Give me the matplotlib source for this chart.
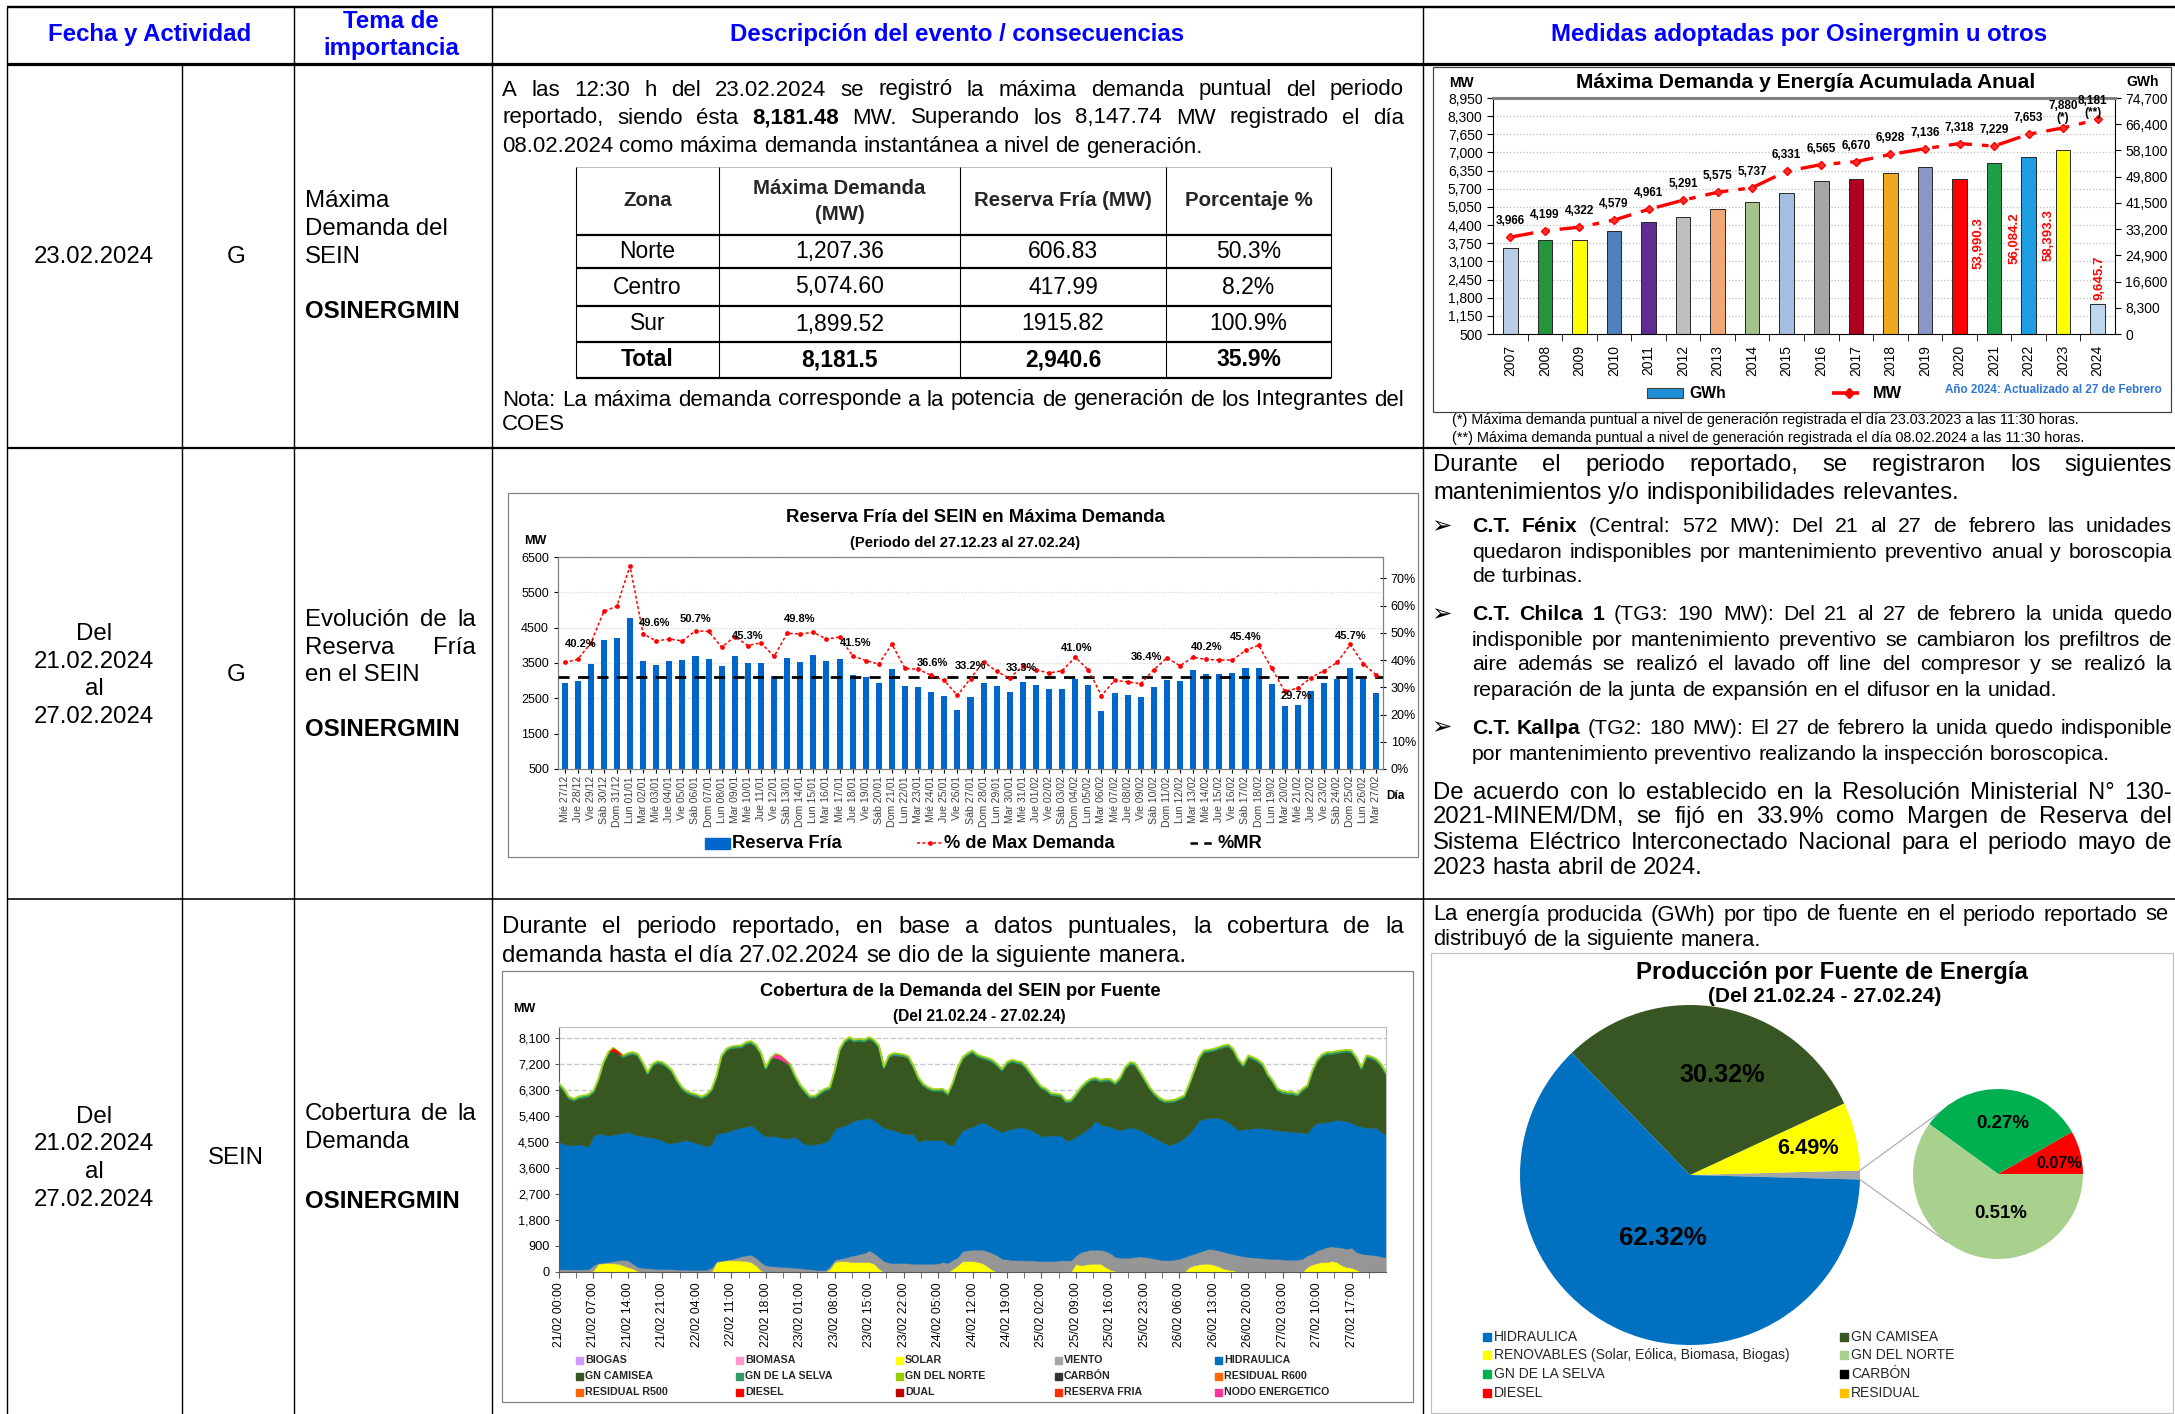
"""
Osinergmin - Máxima demanda, reserva fría y cobertura del SEIN (21.02.24 - 27.02.24)
Run: python plot.py
"""
import matplotlib
matplotlib.use('Agg')
import matplotlib.pyplot as plt
import matplotlib.patheffects as pe
from matplotlib import font_manager
from matplotlib.patches import Rectangle
from matplotlib.ticker import FuncFormatter
import numpy as np
import pandas as pd

W, H = 2175, 1414

_names = {f.name for f in font_manager.fontManager.ttflist}
FONT = 'Liberation Sans' if 'Liberation Sans' in _names else 'DejaVu Sans'
plt.rcParams['font.family'] = [FONT, 'DejaVu Sans']
plt.rcParams['axes.linewidth'] = 0.8

# ── Datos: máxima demanda y energía anual ─────────────────────────────────────
anios = [2007, 2008, 2009, 2010, 2011, 2012, 2013, 2014, 2015,
         2016, 2017, 2018, 2019, 2020, 2021, 2022, 2023, 2024]
energia_gwh = [27100, 29650, 29800, 32500, 35350, 37030, 39570, 41680, 44520,
               48320, 49060, 50850, 52970, 49060, 53990.3, 56084.2, 58393.3, 9645.7]
max_demanda_mw = [3966, 4199, 4322, 4579, 4961, 5291, 5575, 5737, 6331,
                  6565, 6670, 6928, 7136, 7318, 7229, 7653, 7880, 8181]
colores_barras = ['#B8CCE4', '#23963C', '#FFFF00', '#4F81BD', '#5F2C91', '#BFBFBF',
                  '#F0A878', '#A4C28A', '#A6BDE3', '#A6A6A6', '#B00020', '#F0A81E',
                  '#8896C8', '#FF0000', '#1E9E48', '#1E9EE0', '#FFFF00', '#BDD7EE']

# ── Datos: tabla de máxima demanda por zona ───────────────────────────────────
tabla_zonas = ['Norte', 'Centro', 'Sur', 'Total']
tabla_demanda = ['1,207.36', '5,074.60', '1,899.52', '8,181.5']
tabla_reserva = ['606.83', '417.99', '1915.82', '2,940.6']
tabla_pct = ['50.3%', '8.2%', '100.9%', '35.9%']

# ── Datos: reserva fría diaria (27.12.23 - 27.02.24) ──────────────────────────
reserva_fria = [2926, 3001, 3472, 4149, 4196, 4760, 3547, 3434, 3547, 3584,
                3707, 3603, 3415, 3688, 3509, 3509, 3133, 3641, 3528, 3726,
                3547, 3603, 3161, 3096, 2945, 3321, 2851, 2823, 2672, 2559,
                2174, 2531, 2945, 2851, 2682, 2964, 2870, 2757, 2757, 3048,
                2889, 2155, 2644, 2597, 2531, 2832, 3030, 3001, 3293, 3190,
                3190, 3218, 3349, 3349, 2917, 2287, 2315, 2719, 2941, 3039,
                3349, 3058, 2644]
pct_max_demanda = [39.1, 40.2, 46.2, 57.8, 59.8, 74.5, 49.6, 47.0, 47.7, 47.0,
                   50.7, 50.5, 44.7, 48.6, 45.3, 46.3, 41.3, 49.8, 49.6, 50.1,
                   47.7, 48.4, 41.5, 39.8, 38.5, 45.8, 36.9, 36.6, 34.4, 32.5,
                   27.0, 33.2, 39.4, 35.8, 33.3, 37.9, 36.4, 35.2, 36.1, 41.0,
                   36.4, 26.9, 32.5, 32.0, 31.3, 36.4, 40.8, 37.9, 41.0, 40.2,
                   40.0, 40.0, 43.5, 45.4, 37.0, 28.5, 29.7, 33.5, 36.1, 39.1,
                   45.7, 38.6, 34.4]
margen_reserva = 33.9
pct_etq_idx = [1, 6, 10, 14, 17, 22, 27, 31, 34, 39, 45, 49, 53, 56, 60]
pct_etq_off = [(3, 15), (11, 11), (0, 12), (0, 10), (12, 14), (3, 13), (14, 6), (0, 13),
               (12, 10), (1, 9), (-7, 13), (0, 12), (-13, 8), (-2, -8), (0, 8)]

# ── Datos: cobertura horaria (niveles acumulados, MW) ─────────────────────────
nivel_solar = [0, 0, 0, 0, 0, 0, 0, 60, 288, 300,
               311, 300, 288, 230, 173, 115, 35, 0, 0, 0,
               0, 0, 0, 0, 0, 0, 0, 0, 0, 0,
               0, 30, 346, 380, 403, 403, 403, 395, 380, 346,
               230, 58, 0, 0, 0, 0, 0, 0, 0, 0,
               0, 0, 0, 0, 0, 100, 346, 380, 380, 360,
               346, 346, 346, 346, 288, 115, 0, 0, 0, 0,
               0, 0, 0, 0, 0, 0, 0, 0, 0, 0,
               115, 230, 380, 380, 380, 350, 311, 196, 81, 0,
               0, 0, 0, 0, 0, 0, 0, 0, 0, 0,
               0, 0, 0, 0, 20, 288, 230, 260, 288, 288,
               288, 173, 81, 35, 0, 0, 0, 0, 0, 0,
               0, 0, 0, 0, 0, 0, 0, 0, 173, 230,
               265, 288, 288, 250, 196, 115, 81, 58, 0, 0,
               0, 0, 0, 0, 0, 0, 0, 0, 0, 0,
               0, 0, 173, 265, 311, 346, 346, 380, 346, 230,
               173, 150, 81, 0, 0, 0, 0, 0, 0]
nivel_viento = [95, 92, 90, 90, 88, 90, 95, 230, 311, 330,
                346, 380, 403, 426, 403, 288, 173, 150, 130, 120,
                115, 110, 105, 95, 85, 85, 80, 80, 78, 78,
                80, 150, 380, 400, 426, 450, 495, 540, 576, 599,
                495, 346, 230, 210, 196, 185, 173, 160, 150, 130,
                115, 100, 81, 70, 60, 200, 426, 461, 495, 540,
                576, 620, 657, 749, 657, 518, 380, 330, 311, 311,
                311, 300, 288, 288, 288, 288, 288, 300, 346, 311,
                426, 518, 726, 750, 772, 772, 772, 726, 657, 576,
                461, 440, 420, 410, 403, 400, 403, 390, 380, 380,
                380, 390, 403, 403, 403, 576, 691, 730, 772, 772,
                772, 726, 657, 518, 495, 500, 495, 520, 541, 520,
                495, 460, 426, 410, 403, 430, 461, 518, 576, 634,
                691, 749, 806, 780, 749, 700, 657, 620, 576, 545,
                518, 505, 495, 475, 461, 455, 449, 435, 426, 426,
                426, 461, 576, 634, 749, 806, 864, 887, 864, 841,
                806, 841, 691, 634, 611, 595, 576, 540, 495]
nivel_hidraulica = [4493, 4430, 4380, 4400, 4410, 4380, 4340, 4720, 4780, 4760,
                    4720, 4760, 4780, 4810, 4840, 4780, 4720, 4700, 4670, 4640,
                    4610, 4540, 4460, 4470, 4490, 4530, 4570, 4500, 4460, 4400,
                    4340, 4430, 4780, 4810, 4840, 4900, 4950, 5000, 5030, 5070,
                    4950, 4800, 4690, 4700, 4690, 4650, 4610, 4640, 4670, 4540,
                    4410, 4410, 4410, 4450, 4490, 4610, 4950, 5010, 5070, 5150,
                    5240, 5270, 5300, 5330, 5240, 5110, 4990, 4940, 4900, 4840,
                    4780, 4770, 4760, 4490, 4570, 4570, 4570, 4560, 4550, 4410,
                    4380, 4670, 4900, 4970, 5030, 5110, 5180, 5100, 5010, 4920,
                    4840, 4900, 4950, 4980, 5010, 4950, 4900, 4800, 4690, 4710,
                    4720, 4720, 4720, 4550, 4570, 4680, 4780, 4900, 5030, 5240,
                    5100, 5050, 5030, 4950, 4900, 4950, 5010, 4960, 4920, 4820,
                    4720, 4640, 4550, 4460, 4380, 4450, 4530, 4650, 4780, 5010,
                    5240, 5290, 5330, 5330, 5330, 5260, 5180, 5040, 4900, 4930,
                    4950, 4970, 4990, 4970, 4950, 4920, 4900, 4880, 4870, 4850,
                    4840, 4820, 4800, 5030, 5150, 5170, 5180, 5220, 5260, 5240,
                    5220, 5150, 5070, 5030, 4990, 4990, 4990, 4860, 4720]
nivel_total = [6530, 6336, 6071, 5990, 6071, 6106, 6140, 6278, 6682, 7258,
               7603, 7753, 7638, 7488, 7569, 7603, 7546, 7258, 6912, 7200,
               7292, 7258, 7142, 6970, 6647, 6394, 6255, 6186, 6140, 6071,
               6163, 6336, 6797, 7488, 7718, 7799, 7822, 7833, 7949, 7983,
               7868, 7603, 7085, 7407, 7546, 7488, 7338, 7177, 6797, 6486,
               6278, 6094, 6094, 6220, 6336, 6394, 6970, 7718, 8006, 8122,
               8030, 8064, 8030, 8122, 8030, 7833, 7108, 7488, 7569, 7546,
               7523, 7454, 7142, 6739, 6509, 6394, 6325, 6325, 6336, 6186,
               6566, 7085, 7430, 7569, 7661, 7523, 7454, 7407, 7338, 7200,
               7027, 7258, 7338, 7292, 7258, 7085, 6854, 6624, 6417, 6336,
               6186, 6163, 6140, 5933, 5956, 6163, 6394, 6566, 6682, 6716,
               6647, 6682, 6670, 6555, 6739, 7085, 7258, 7223, 6970, 6682,
               6394, 6186, 6025, 5933, 5933, 5956, 6025, 6106, 6509, 6970,
               7430, 7661, 7684, 7718, 7776, 7833, 7868, 7718, 7373, 7177,
               7488, 7430, 7338, 7200, 6854, 6624, 6336, 6255, 6220, 6220,
               6163, 6336, 6451, 6970, 7338, 7523, 7603, 7603, 7638, 7661,
               7684, 7661, 7430, 7085, 7488, 7454, 7373, 7200, 6912]
diesel_horas = [10, 11, 12, 13]
diesel_mw = [0, 120, 100, 0]
nodo_horas = [43, 44, 45, 46, 47]
nodo_mw = [0, 150, 150, 100, 0]

leyenda_cobertura = [('BIOGAS', '#CC99FF'), ('BIOMASA', '#FF99CC'), ('SOLAR', '#FFFF00'),
                     ('VIENTO', '#A6A6A6'), ('HIDRAULICA', '#0070C0'),
                     ('GN CAMISEA', '#375623'), ('GN DE LA SELVA', '#339966'),
                     ('GN DEL NORTE', '#99CC00'), ('CARBÓN', '#333333'), ('RESIDUAL R600', '#FF6600'),
                     ('RESIDUAL R500', '#FF6600'), ('DIESEL', '#FF0000'), ('DUAL', '#C00000'),
                     ('RESERVA FRIA', '#FF3300'), ('NODO ENERGETICO', '#FF3399')]

# ── Datos: producción por fuente (%) ──────────────────────────────────────────
pie_fuentes = ['Otros', 'Renovables', 'GN Camisea', 'Hidráulica']
pie_valores = [0.85, 6.49, 30.32, 62.32]
pie_colores = ['#A6A6A6', '#FFFF00', '#375623', '#0070C0']
sub_fuentes = ['Diesel', 'GN de la Selva', 'GN del Norte']
sub_valores = [0.07, 0.27, 0.51]
sub_colores = ['#FF0000', '#00B050', '#A9D18E']
leyenda_pie = [('HIDRAULICA', '#0070C0'), ('GN CAMISEA', '#375623'),
               ('RENOVABLES (Solar, Eólica, Biomasa, Biogas)', '#FFFF00'), ('GN DEL NORTE', '#A9D18E'),
               ('GN DE LA SELVA', '#00B050'), ('CARBÓN', '#000000'),
               ('DIESEL', '#FF0000'), ('RESIDUAL', '#FFC000')]

# ── Figura base (coordenadas en píxeles) ──────────────────────────────────────
fig = plt.figure(figsize=(W / 100, H / 100), dpi=100)
base = fig.add_axes([0, 0, 1, 1])
base.set_xlim(0, W)
base.set_ylim(H, 0)
base.axis('off')
R = fig.canvas.get_renderer()


def add_ax(l, t, r, b):
    return fig.add_axes([l / W, 1 - b / H, (r - l) / W, (b - t) / H])


def width(s, size, weight='normal'):
    t = base.text(0, 0, s, fontsize=size, fontweight=weight)
    w = t.get_window_extent(R).width
    t.remove()
    return w


def fit(s, target, weight='normal'):
    return 10 * target / width(s, 10, weight)


def put(ax, x, y, s, size, ha='left', weight='normal', color='black', **kw):
    return ax.text(x, y, s, fontsize=size, ha=ha, va='center',
                   fontweight=weight, color=color, **kw)


def line(ax, x0, y, parts, size, x1=None, color='black'):
    if isinstance(parts, str):
        parts = [(parts, False)]
    words = [(w, 'bold' if b else 'normal') for txt, b in parts for w in txt.split()]
    ws = [width(w, size, wt) for w, wt in words]
    space = width('a a', size) - width('aa', size)
    gap = space
    if x1 is not None and len(words) > 1:
        gap = max((x1 - x0 - sum(ws)) / (len(words) - 1), 0.4 * space)
    x = x0
    for (w, wt), ww in zip(words, ws):
        put(ax, x, y, w, size, weight=wt, color=color)
        x += ww + gap


def hline(y, x0, x1, px, color='black'):
    base.plot([x0, x1], [y, y], color=color, lw=px * 0.72, solid_capstyle='butt')


def vline(x, y0, y1, px, color='black'):
    base.plot([x, x], [y0, y1], color=color, lw=px * 0.72, solid_capstyle='butt')


def box(l, t, r, b, color, px=1.0):
    base.add_patch(Rectangle((l, t), r - l, b - t, fill=False, ec=color, lw=px * 0.72))


# ── Rejilla de la tabla principal ─────────────────────────────────────────────
hline(7, 7, W, 2.4)
hline(64, 7, W, 3.2)
hline(448, 7, W, 2.2)
hline(899, 7, W, 1.6)
for xv in [7, 294, 492, 1423]:
    vline(xv, 7, H, 1.4)
vline(182, 64, H, 1.4)

# encabezados
HS = fit('Descripción del evento / consecuencias', 455, 'bold')
BLUE = '#0000FF'
put(base, 150, 35, 'Fecha y Actividad', HS, ha='center', weight='bold', color=BLUE)
put(base, 391, 22, 'Tema de', HS, ha='center', weight='bold', color=BLUE)
put(base, 391, 49, 'importancia', HS, ha='center', weight='bold', color=BLUE)
put(base, 957, 35, 'Descripción del evento / consecuencias', HS, ha='center', weight='bold', color=BLUE)
put(base, 1799, 35, 'Medidas adoptadas por Osinergmin u otros', HS, ha='center', weight='bold', color=BLUE)

# columnas izquierdas
LS = fit('23.02.2024', 121)
put(base, 94, 257, '23.02.2024', LS, ha='center')
put(base, 236, 257, 'G', LS, ha='center')
for yy, s in zip([201, 229, 257], ['Máxima', 'Demanda del', 'SEIN']):
    put(base, 305, yy, s, LS)
put(base, 305, 311, 'OSINERGMIN', LS, weight='bold')

for yy, s in zip([634, 662, 689, 717], ['Del', '21.02.2024', 'al', '27.02.2024']):
    put(base, 94, yy, s, LS, ha='center')
put(base, 236, 675, 'G', LS, ha='center')
line(base, 305, 620, 'Evolución de la', LS, x1=476)
line(base, 305, 648, 'Reserva Fría', LS, x1=476)
put(base, 305, 675, 'en el SEIN', LS)
put(base, 305, 730, 'OSINERGMIN', LS, weight='bold')

for yy, s in zip([1117, 1144, 1172, 1200], ['Del', '21.02.2024', 'al', '27.02.2024']):
    put(base, 94, yy, s, LS, ha='center')
put(base, 236, 1158, 'SEIN', LS, ha='center')
line(base, 305, 1114, 'Cobertura de la', LS, x1=476)
put(base, 305, 1142, 'Demanda', LS)
put(base, 305, 1201, 'OSINERGMIN', LS, weight='bold')

# ── Fila 1: texto y tabla ─────────────────────────────────────────────────────
NOTA = 'Nota: La máxima demanda corresponde a la potencia de generación de los Integrantes del'
PS = min(fit('08.02.2024 como máxima demanda instantánea a nivel de generación.', 753),
         fit(NOTA, 898))
line(base, 502, 90, 'A las 12:30 h del 23.02.2024 se registró la máxima demanda puntual del periodo', PS, x1=1404)
line(base, 502, 118, [('reportado, siendo ésta', False), ('8,181.48', True),
                      ('MW. Superando los 8,147.74 MW registrado el día', False)], PS, x1=1404)
line(base, 502, 147, '08.02.2024 como máxima demanda instantánea a nivel de generación.', PS)
line(base, 502, 400, NOTA, PS, x1=1404)
line(base, 502, 424, 'COES', PS)

tx = [576, 719, 960, 1166, 1331]
ty = [167, 235, 268, 306, 342, 378]
hline(ty[0], tx[0], tx[-1], 1.0, color='#BFBFBF')
for yv in ty[1:]:
    hline(yv, tx[0], tx[-1], 2.2)
for xv in tx:
    vline(xv, ty[0], ty[-1], 1.1)
TH = fit('Reserva Fría (MW)', 178, 'bold')
TB = fit('606.83', 70)
cx = [(a + b) / 2 for a, b in zip(tx[:-1], tx[1:])]
put(base, cx[0], 201, 'Zona', TH, ha='center', weight='bold', color='#262626')
put(base, cx[1], 189, 'Máxima Demanda', TH, ha='center', weight='bold', color='#262626')
put(base, cx[1], 214, '(MW)', TH, ha='center', weight='bold', color='#262626')
put(base, cx[2], 201, 'Reserva Fría (MW)', TH, ha='center', weight='bold', color='#262626')
put(base, cx[3], 201, 'Porcentaje %', TH, ha='center', weight='bold', color='#262626')
for i, zona in enumerate(tabla_zonas):
    yy = (ty[i + 1] + ty[i + 2]) / 2
    wt = 'bold' if zona == 'Total' else 'normal'
    for j, val in enumerate([zona, tabla_demanda[i], tabla_reserva[i], tabla_pct[i]]):
        put(base, cx[j], yy, val, TB, ha='center', weight=wt)

# ── Fila 1: gráfico máxima demanda / energía anual ────────────────────────────
box(1433, 67, 2171, 412, '#404040', 1.2)
put(base, 1806, 83, 'Máxima Demanda y Energía Acumulada Anual',
    fit('Máxima Demanda y Energía Acumulada Anual', 459, 'bold'), ha='center', weight='bold')
put(base, 1461, 83, 'MW', 10, ha='center', weight='bold')
put(base, 2143, 82, 'GWh', 10, ha='center', weight='bold')

ax1 = add_ax(1493, 98, 2115, 334)
xa = np.arange(len(anios))
ax1.bar(xa, energia_gwh, width=0.42, color=colores_barras, edgecolor='#262626',
        linewidth=0.7, zorder=2)
ax1.set_xlim(-0.5, len(anios) - 0.5)
ax1.set_ylim(0, 74700)
ax1.set_yticks(np.arange(0, 74701, 8300))
ax1.set_yticks(np.linspace(0, 74700, 14), minor=True)
ax1.grid(axis='y', which='minor', ls=':', color='#BFBFBF', lw=0.9)
ax1.set_axisbelow(True)
ax1.yaxis.set_major_formatter(FuncFormatter(lambda v, p: f'{v:,.0f}'))
ax1.set_xticks(xa)
ax1.set_xticklabels([str(a) for a in anios], rotation=90, fontsize=10)
ax1.set_xticks(xa[:-1] + 0.5, minor=True)
ax1.tick_params(axis='x', which='major', length=0, pad=8)
ax1.tick_params(axis='x', which='minor', length=5)
for sp in ['top', 'left', 'right']:
    ax1.spines[sp].set_visible(False)

ax1b = ax1.twinx()
ax1.yaxis.tick_right()
ax1.tick_params(axis='y', which='major', labelsize=10, length=4)
ax1.tick_params(axis='y', which='minor', length=0)
ax1b.yaxis.tick_left()
ax1b.set_ylim(500, 8950)
ax1b.set_yticks(np.arange(500, 8951, 650))
ax1b.yaxis.set_major_formatter(FuncFormatter(lambda v, p: f'{v:,.0f}'))
ax1b.tick_params(axis='y', labelsize=10, length=4)
ax1b.spines['top'].set_color('#808080')
ax1b.spines['top'].set_linewidth(2.2)
ax1b.spines['bottom'].set_visible(False)
ax1b.plot(xa, max_demanda_mw, color='#FF0000', lw=2.4, ls=(0, (7, 3, 2, 3)),
          marker='D', ms=4.5, mec='#FF0000', mfc='#FF3030', zorder=3)
for i, v in enumerate(max_demanda_mw):
    if anios[i] == 2023:
        ax1b.annotate(f'{v:,}\n(*)', (i, v), xytext=(0, 4), textcoords='offset pixels',
                      ha='center', va='bottom', fontsize=8.5, fontweight='bold', linespacing=1.0)
    elif anios[i] == 2024:
        ax1b.annotate(f'{v:,}\n(**)', (i, v), xytext=(-5, 0), textcoords='offset pixels',
                      ha='center', va='bottom', fontsize=8.5, fontweight='bold', linespacing=1.0)
    else:
        ax1b.annotate(f'{v:,}', (i, v), xytext=(0, 16), textcoords='offset pixels',
                      ha='center', va='center', fontsize=8.5, fontweight='bold')
etq_gwh = {14: (-0.44, 0.387), 15: (-0.42, 0.408), 16: (-0.42, 0.42), 17: (0.04, 0.237)}
for i, (dx, fy) in etq_gwh.items():
    ax1.text(i + dx, fy, f'{energia_gwh[i]:,.1f}', transform=ax1.get_xaxis_transform(),
             rotation=90, ha='center', va='center', color='#FF0000', fontsize=9.5,
             fontweight='bold')

base.add_patch(Rectangle((1647, 388), 36, 10, fc='#1F8FD8', ec='#404040', lw=0.8))
put(base, 1689, 393, 'GWh', fit('GWh', 37, 'bold'), weight='bold')
base.plot([1832, 1866], [393, 393], color='#FF0000', lw=2.6, ls=(0, (4, 2, 1.5, 2)))
base.plot([1849], [393], marker='D', ms=5, color='#FF0000')
put(base, 1873, 393, 'MW', fit('MW', 29, 'bold'), weight='bold')
put(base, 1945, 390, 'Año 2024: Actualizado al 27 de Febrero',
    fit('Año 2024: Actualizado al 27 de Febrero', 217, 'bold'), weight='bold', color='#2E75D6')
FN = fit('(*) Máxima demanda puntual a nivel de generación registrada el día 23.03.2023 a las 11:30 horas.', 631)
put(base, 1452, 420, '(*) Máxima demanda puntual a nivel de generación registrada el día 23.03.2023 a las 11:30 horas.', FN)
put(base, 1452, 438, '(**) Máxima demanda puntual a nivel de generación registrada el día 08.02.2024 a las 11:30 horas.', FN)

# ── Fila 2: gráfico reserva fría ──────────────────────────────────────────────
box(508, 493, 1418, 857, '#808080', 1.2)
put(base, 975, 518, 'Reserva Fría del SEIN en Máxima Demanda',
    fit('Reserva Fría del SEIN en Máxima Demanda', 379, 'bold'), ha='center', weight='bold')
put(base, 965, 543, '(Periodo del 27.12.23 al 27.02.24)',
    fit('(Periodo del 27.12.23 al 27.02.24)', 230, 'bold'), ha='center', weight='bold')
put(base, 535, 541, 'MW', 9, ha='center', weight='bold')
put(base, 1395, 796, 'Día', 8.5, ha='center', weight='bold')

dias_es = ['Lun', 'Mar', 'Mié', 'Jue', 'Vie', 'Sáb', 'Dom']
fechas = pd.date_range('2023-12-27', '2024-02-27', freq='D')
etiquetas_dias = [f'{dias_es[d.weekday()]} {d:%d/%m}' for d in fechas]

ax2 = add_ax(558, 557, 1383, 769)
xd = np.arange(len(reserva_fria))
ax2.bar(xd, reserva_fria, width=0.46, color='#0066CC', zorder=2)
ax2.set_xlim(-0.5, len(xd) - 0.5)
ax2.set_ylim(500, 6500)
ax2.set_yticks(range(500, 6501, 1000))
ax2.grid(axis='y', ls=':', color='#D0D0D0', lw=0.8)
ax2.set_axisbelow(True)
ax2.set_xticks(xd)
ax2.set_xticklabels(etiquetas_dias, rotation=90, fontsize=7.6, color='#404040')
ax2.tick_params(axis='x', length=3, pad=2)
ax2.tick_params(axis='y', labelsize=9, length=3)
for sp in ax2.spines.values():
    sp.set_color('#808080')

ax2r = ax2.twinx()
ax2r.set_ylim(0, 77.8)
ax2r.set_yticks(range(0, 71, 10))
ax2r.yaxis.set_major_formatter(FuncFormatter(lambda v, p: f'{v:.0f}%'))
ax2r.tick_params(axis='y', labelsize=9, length=4, direction='inout')
for sp in ax2r.spines.values():
    sp.set_color('#808080')
ax2r.axhline(margen_reserva, color='black', lw=2.0, ls=(0, (4, 3)), zorder=3)
ax2r.plot(xd, pct_max_demanda, color='#FF0000', lw=1.1, ls=(0, (2, 1.5)),
          marker='o', ms=2.4, zorder=4)
for i, (dx, dy) in zip(pct_etq_idx, pct_etq_off):
    ax2r.annotate(f'{pct_max_demanda[i]:.1f}%', (i, pct_max_demanda[i]), xytext=(dx, dy),
                  textcoords='offset pixels', ha='center', va='center',
                  fontsize=8, fontweight='bold', zorder=5)

LG2 = fit('Reserva Fría', 110, 'bold')
base.add_patch(Rectangle((705, 838), 25, 11, color='#0066CC'))
put(base, 732, 843, 'Reserva Fría', LG2, weight='bold')
base.plot([917, 929.5, 942], [843, 843, 843], color='#FF0000', lw=1.1, ls=(0, (2, 1.5)),
          marker='o', ms=2.4, markevery=[1])
put(base, 944, 843, '% de Max Demanda', LG2, weight='bold')
base.plot([1190, 1213], [843, 843], color='black', lw=1.8, ls=(0, (3, 2.5)))
put(base, 1217, 843, '%MR', LG2, weight='bold')

# ── Fila 2: texto de medidas ──────────────────────────────────────────────────
MS = fit('mantenimientos y/o indisponibilidades relevantes.', 526)
BS = fit('reparación de la junta de expansión en el difusor en la unidad.', 587)
line(base, 1433, 465, 'Durante el periodo reportado, se registraron los siguientes', MS, x1=2172)
line(base, 1433, 493, 'mantenimientos y/o indisponibilidades relevantes.', MS)
vinetas = [
    (527, [('C.T. Fénix', True), ('(Central: 572 MW): Del 21 al 27 de febrero las unidades', False)], True),
    (552, 'quedaron indisponibles por mantenimiento preventivo anual y boroscopia', True),
    (577, 'de turbinas.', False),
    (615, [('C.T. Chilca 1', True), ('(TG3: 190 MW): Del 21 al 27 de febrero la unida quedo', False)], True),
    (641, 'indisponible por mantenimiento preventivo se cambiaron los prefiltros de', True),
    (665, 'aire además se realizó el lavado off line del compresor y se realizó la', True),
    (690, 'reparación de la junta de expansión en el difusor en la unidad.', False),
    (728, [('C.T. Kallpa', True), ('(TG2: 180 MW): El 27 de febrero la unida quedo indisponible', False)], True),
    (754, 'por mantenimiento preventivo realizando la inspección boroscopica.', False),
]
for yy, parts, just in vinetas:
    line(base, 1472, yy, parts, BS, x1=2172 if just else None)
for yy in [527, 615, 728]:
    put(base, 1441, yy, '➢', BS * 1.15, ha='center')
line(base, 1433, 793, 'De acuerdo con lo establecido en la Resolución Ministerial N° 130-', MS, x1=2172)
line(base, 1433, 817, '2021-MINEM/DM, se fijó en 33.9% como Margen de Reserva del', MS, x1=2172)
line(base, 1433, 843, 'Sistema Eléctrico Interconectado Nacional para el periodo mayo de', MS, x1=2172)
line(base, 1433, 868, '2023 hasta abril de 2024.', MS)

# ── Fila 3: texto y gráfico de cobertura ──────────────────────────────────────
CS = fit('demanda hasta el día 27.02.2024 se dio de la siguiente manera.', 687)
line(base, 502, 927, 'Durante el periodo reportado, en base a datos puntuales, la cobertura de la', CS, x1=1404)
line(base, 502, 956, 'demanda hasta el día 27.02.2024 se dio de la siguiente manera.', CS)

box(502, 971, 1413, 1402, '#808080', 1.2)
put(base, 960, 992, 'Cobertura de la Demanda del SEIN por Fuente',
    fit('Cobertura de la Demanda del SEIN por Fuente', 401, 'bold'), ha='center', weight='bold')
put(base, 979, 1017, '(Del 21.02.24 - 27.02.24)',
    fit('(Del 21.02.24 - 27.02.24)', 174, 'bold'), ha='center', weight='bold')
put(base, 524, 1009, 'MW', 9, ha='center', weight='bold')

horas = np.arange(len(nivel_total))
n_sol = np.array(nivel_solar)
n_vie = np.array(nivel_viento)
n_hid = np.array(nivel_hidraulica)
n_tot = np.array(nivel_total)

ax3 = add_ax(559, 1027, 1386, 1272)
ax3.set_axisbelow(True)
ax3.grid(axis='y', ls='--', color='#C8C8C8', lw=1.0)
ax3.fill_between(horas, 0, n_sol, color='#FFFF00', lw=0.4, ec='#FFFF00', zorder=2)
ax3.fill_between(horas, n_sol, n_vie, color='#969696', lw=0.4, ec='#969696', zorder=2)
ax3.fill_between(horas, n_vie, n_hid, color='#0070C0', lw=0.4, ec='#0070C0', zorder=2)
ax3.fill_between(horas, n_hid, n_tot, color='#38561F', lw=0.4, ec='#38561F', zorder=2)
ax3.plot(horas, n_tot, color='#A8D81A', lw=1.3, zorder=3,
         path_effects=[pe.SimpleLineShadow(offset=(0, -1.3), shadow_color='#2E9E6E', alpha=1, rho=1),
                       pe.Normal()])
ax3.fill_between(diesel_horas, n_tot[diesel_horas] - np.array(diesel_mw), n_tot[diesel_horas],
                 color='#FF0000', lw=0, zorder=4)
ax3.fill_between(nodo_horas, n_tot[nodo_horas] - np.array(nodo_mw), n_tot[nodo_horas],
                 color='#FF3399', lw=0, zorder=4)
ax3.set_xlim(0, 168)
ax3.set_ylim(0, 8470)
ax3.set_yticks(range(0, 8101, 900))
ax3.yaxis.set_major_formatter(FuncFormatter(lambda v, p: f'{v:,.0f}'))
tick_horas = list(range(0, 168, 7))
tick_labels = [f'{21 + h // 24:02d}/02 {h % 24:02d}:00' for h in tick_horas]
ax3.set_xticks(tick_horas)
ax3.set_xticklabels(tick_labels, rotation=90, fontsize=8.8)
ax3.set_xticks(np.arange(3.5, 168, 7), minor=True)
ax3.tick_params(axis='x', which='both', length=4, color='#595959')
ax3.tick_params(axis='y', labelsize=9.2, length=3, color='#595959')
ax3.spines['left'].set_color('#595959')
ax3.spines['bottom'].set_color('#595959')
ax3.spines['top'].set_color('#BFBFBF')
ax3.spines['right'].set_color('#BFBFBF')

LG3 = fit('GN CAMISEA', 68, 'bold')
col_x = [579, 739, 899, 1058, 1218]
fil_y = [1360, 1376, 1392]
for k, (nombre, color) in enumerate(leyenda_cobertura):
    xx, yy = col_x[k % 5], fil_y[k // 5]
    base.add_patch(Rectangle((xx - 3.5, yy - 3.5), 7, 7, color=color))
    put(base, xx + 6, yy, nombre, LG3, weight='bold', color='#262626')

# ── Fila 3: producción por fuente ─────────────────────────────────────────────
ENERGIA = 'La energía producida (GWh) por tipo de fuente en el periodo reportado se'
ES = fit(ENERGIA, 722)
line(base, 1433, 915, ENERGIA, ES, x1=2168)
line(base, 1433, 940, 'distribuyó de la siguiente manera.', ES)
box(1431, 953, 2173, 1413, '#BFBFBF', 1.2)
put(base, 1832, 973, 'Producción por Fuente de Energía',
    fit('Producción por Fuente de Energía', 393, 'bold'), ha='center', weight='bold')
put(base, 1825, 997, '(Del 21.02.24 - 27.02.24)',
    fit('(Del 21.02.24 - 27.02.24)', 233, 'bold'), ha='center', weight='bold')

PCX, PCY, PR = 1690, 1175, 170
ax5 = add_ax(PCX - PR, PCY - PR, PCX + PR, PCY + PR)
inicio = -pie_valores[0] / sum(pie_valores) * 360 / 2
ax5.pie(pie_valores, colors=pie_colores, startangle=inicio, counterclock=True,
        wedgeprops=dict(linewidth=0))
ax5.set_xlim(-1, 1)
ax5.set_ylim(-1, 1)

SCX, SCY, SR = 1998, 1174, 85
ax6 = add_ax(SCX - SR, SCY - SR, SCX + SR, SCY + SR)
ax6.pie(sub_valores, colors=sub_colores, startangle=0, counterclock=True,
        wedgeprops=dict(linewidth=0))
ax6.set_xlim(-1, 1)
ax6.set_ylim(-1, 1)

over = fig.add_axes([0, 0, 1, 1])
over.set_xlim(0, W)
over.set_ylim(H, 0)
over.axis('off')

a1 = np.radians(inicio)
a2 = np.radians(inicio + pie_valores[0] / sum(pie_valores) * 360)
for am, asub in [(a2, np.radians(133.6)), (a1, np.radians(-127))]:
    over.plot([PCX + PR * np.cos(am), SCX + SR * np.cos(asub)],
              [PCY - PR * np.sin(am), SCY - SR * np.sin(asub)], color='#A6A6A6', lw=0.8)

etq_pie = [(1722, 1075, 30.32, 86), (1808, 1148, 6.49, 62), (1663, 1238, 62.32, 88)]
for xx, yy, v, wpx in etq_pie:
    s = f'{v:.2f}%'
    put(over, xx, yy, s, fit(s, wpx, 'bold'), ha='center', weight='bold')
etq_sub = [(2003, 1123, 0.27, 53), (2059, 1164, 0.07, 46), (2001, 1213, 0.51, 53)]
for xx, yy, v, wpx in etq_sub:
    s = f'{v:.2f}%'
    put(over, xx, yy, s, fit(s, wpx, 'bold'), ha='center', weight='bold')

LGP = fit('RENOVABLES (Solar, Eólica, Biomasa, Biogas)', 295)
pie_col_x = [1487, 1844]
pie_fil_y = [1337, 1355, 1374, 1393]
for k, (nombre, color) in enumerate(leyenda_pie):
    xx, yy = pie_col_x[k % 2], pie_fil_y[k // 2]
    over.add_patch(Rectangle((xx - 4, yy - 4), 8, 8, color=color))
    put(over, xx + 7, yy, nombre, LGP, color='#262626')

fig.savefig('out.png', dpi=100)
plt.close(fig)
print('Saved → out.png')
